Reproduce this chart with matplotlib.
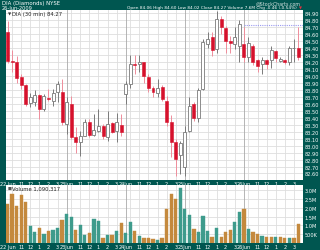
import matplotlib
matplotlib.use("Agg")
import matplotlib.pyplot as plt
import numpy as np

# ---------------- data ----------------
days = ["22 Jun", "23Jun", "24Jun", "25Jun", "26Jun"]
hour_labels = ["11", "12", "1", "2", "3"]
bars_per_day = 13

opens = [84.62, 84.21, 84.19, 83.98, 83.86, 83.61, 83.62, 83.72, 83.52, 83.68, 83.64, 83.76, 83.77,
         83.31, 83.59, 83.12, 83.05, 83.14, 83.33, 83.15, 83.21, 83.28, 83.12, 83.32, 83.21, 83.29,
         83.74, 83.88, 84.17, 84.17, 84.19, 83.98, 83.83, 83.75, 83.84, 83.64, 83.33, 83.05, 82.86,
         82.69, 83.21, 83.59, 83.40, 83.81, 84.45, 84.55, 84.38, 84.81, 84.68, 84.50, 84.45, 84.42,
         84.45, 84.27, 84.42, 84.22, 84.16, 84.22, 84.23, 84.35, 84.21, 84.22, 84.19, 84.39, 84.40]
closes = [84.21, 84.20, 83.96, 83.86, 83.59, 83.70, 83.72, 83.52, 83.71, 83.66, 83.75, 83.88, 83.33,
          83.62, 83.12, 83.05, 83.14, 83.33, 83.15, 83.22, 83.28, 83.13, 83.31, 83.20, 83.34, 83.19,
          83.88, 84.17, 84.15, 84.20, 83.99, 83.82, 83.76, 83.83, 83.67, 83.33, 83.05, 82.81, 83.04,
          83.20, 83.57, 83.40, 83.80, 84.48, 84.53, 84.36, 84.81, 84.69, 84.50, 84.47, 84.55, 84.74,
          84.27, 84.47, 84.20, 84.14, 84.22, 84.16, 84.36, 84.25, 84.24, 84.19, 84.40, 84.40, 84.27]
highs = [84.78, 84.36, 84.28, 84.02, 83.88, 83.75, 83.80, 83.74, 83.74, 83.81, 83.81, 83.93, 83.95,
         83.69, 83.71, 83.26, 83.21, 83.38, 83.38, 83.45, 83.52, 83.31, 83.50, 83.34, 83.47, 83.45,
         83.93, 84.29, 84.29, 84.29, 84.20, 84.02, 83.85, 83.95, 83.86, 83.71, 83.43, 83.09, 83.07,
         83.28, 83.69, 83.62, 83.83, 84.52, 84.62, 84.62, 84.93, 84.86, 84.71, 84.57, 84.70, 84.79,
         84.70, 84.55, 84.45, 84.24, 84.26, 84.24, 84.42, 84.36, 84.26, 84.24, 84.43, 84.52, 84.70]
lows = [84.18, 84.05, 83.90, 83.81, 83.56, 83.55, 83.56, 83.38, 83.50, 83.64, 83.57, 83.62, 83.30,
        83.16, 83.09, 82.90, 82.85, 83.14, 83.12, 83.14, 83.19, 83.09, 83.07, 83.18, 83.05, 83.14,
        83.59, 83.83, 84.02, 84.05, 83.90, 83.76, 83.70, 83.69, 83.64, 83.28, 82.83, 82.57, 82.59,
        82.57, 83.19, 83.35, 83.33, 83.79, 84.40, 84.28, 84.33, 84.60, 84.33, 84.33, 84.38, 84.20,
        84.20, 84.19, 84.15, 84.05, 84.02, 84.10, 84.11, 84.20, 84.19, 84.16, 84.15, 84.19, 84.22]
volumes_m = [2.22, 2.80, 2.13, 2.73, 2.31, 0.98, 0.62, 0.85, 0.49, 0.67, 0.76, 0.85, 1.31,
             1.64, 1.49, 0.76, 1.04, 0.44, 0.58, 1.35, 1.27, 0.31, 0.47, 0.47, 0.70, 1.12,
             0.58, 1.20, 0.67, 0.38, 0.28, 0.26, 0.25, 0.16, 0.26, 1.93, 2.80, 2.50, 3.12,
             1.93, 1.62, 0.80, 0.62, 1.53, 0.66, 0.34, 0.86, 0.36, 0.61, 0.75, 1.17, 1.77,
             1.91, 0.77, 0.63, 0.52, 0.38, 0.36, 0.33, 0.36, 0.34, 0.28, 0.27, 0.30, 1.08]
vol_up = [0, 0, 0, 0, 0, 1, 1, 0, 1, 0, 1, 1, 0,
          1, 1, 0, 1, 1, 0, 1, 1, 0, 1, 0, 1, 0,
          1, 1, 0, 1, 0, 0, 0, 1, 0, 0, 0, 0, 1,
          1, 1, 0, 1, 1, 1, 0, 1, 0, 0, 0, 1, 1,
          0, 1, 0, 0, 1, 0, 0, 1, 0, 0, 1, 0, 0]
ref_line_level = 84.73
ref_line_start = 52
price_ticks = [round(82.6 + 0.1 * k, 2) for k in range(24)]
vol_ticks_m = [0.5, 1.0, 1.5, 2.0, 2.5, 3.0]
vol_tick_labels = ["500K", "1.0M", "1.5M", "2.0M", "2.5M", "3.0M"]

# ---------------- style ----------------
W, H = 320, 251
FRAME = "#005650"
UP_EDGE = "#7a7a7a"
DN_BODY = "#d6112c"
DN_WICK = "#ef8d9b"
TEAL = "#3e9b8c"
BRONZE = "#c4893d"
GRID = "#dedede"
DAYLINE = "#a9a9a9"
FONT = ["Liberation Sans Narrow", "DejaVu Sans"]
plt.rcParams["font.family"] = FONT

fig = plt.figure(figsize=(W / 100, H / 100), dpi=100, facecolor=FRAME)


def rect(l, t, r, b):
    return [l / W, 1 - b / H, (r - l) / W, (b - t) / H]


n = len(opens)
x = np.arange(n)
xlim = (-0.35, n - 0.1)

day_starts = [d * bars_per_day for d in range(len(days))]
grid_pos = [d * bars_per_day + h for d in range(len(days)) for h in (1, 3, 5, 7, 9, 11)]
lab_pos = []
lab_txt = []
for d in range(len(days)):
    lab_pos.append(d * bars_per_day)
    lab_txt.append(days[d])
    for h, t in zip((3, 5, 7, 9, 11), hour_labels):
        lab_pos.append(d * bars_per_day + h)
        lab_txt.append(t)

# ---------------- price panel ----------------
ax = fig.add_axes(rect(6, 11, 302.5, 181))
ax.set_facecolor("white")
ax.set_xlim(*xlim)
ax.set_ylim(82.507, 84.939)
for gp in grid_pos:
    ax.axvline(gp, color=GRID, lw=0.6, zorder=0)
for ds in day_starts[1:]:
    ax.axvline(ds, color=DAYLINE, lw=0.6, zorder=0.5)
for pt in price_ticks:
    ax.axhline(pt, color=GRID, lw=0.6, zorder=0)

o = np.array(opens); c = np.array(closes); hi = np.array(highs); lo = np.array(lows)
up = c >= o
ax.vlines(x[up], lo[up], hi[up], color=UP_EDGE, lw=0.7, zorder=2)
ax.vlines(x[~up], lo[~up], hi[~up], color=DN_WICK, lw=0.7, zorder=2)
bot = np.minimum(o, c)
hgt = np.maximum(np.abs(c - o), 0.012)
ax.bar(x[up], hgt[up], bottom=bot[up], width=0.66, facecolor="white",
       edgecolor=UP_EDGE, lw=0.6, zorder=3)
ax.bar(x[~up], hgt[~up], bottom=bot[~up], width=0.66, facecolor=DN_BODY,
       edgecolor=DN_BODY, lw=0.4, zorder=3)
ax.hlines(ref_line_level, ref_line_start, xlim[1], color="#9a9af0", lw=0.8,
          linestyles=(0, (1, 1)), zorder=1)

ax.yaxis.tick_right()
ax.set_yticks(price_ticks)
ax.set_yticklabels([f"{p:.2f}" for p in price_ticks])
ax.set_xticks(lab_pos)
ax.set_xticklabels(lab_txt)
ax.tick_params(axis="both", length=0, colors="white", labelsize=3.6)
ax.tick_params(axis="y", pad=1.5)
ax.tick_params(axis="x", pad=0.6)
for s in ax.spines.values():
    s.set_visible(False)
ax.text(0.006, 0.992, "▼", transform=ax.transAxes, fontsize=3.0, va="top", ha="left",
        color="#333333", family=["DejaVu Sans"])
ax.text(0.02, 0.992, "DIA (30 min) 84.27", transform=ax.transAxes, fontsize=3.8,
        va="top", ha="left", color="#222222")

# ---------------- volume panel ----------------
av = fig.add_axes(rect(6, 186, 302.5, 244))
av.set_facecolor("white")
av.set_xlim(*xlim)
av.set_ylim(0, 3.3)
for gp in grid_pos:
    av.axvline(gp, color=GRID, lw=0.6, zorder=0)
for ds in day_starts[1:]:
    av.axvline(ds, color=DAYLINE, lw=0.6, zorder=0.5)
for vt in vol_ticks_m:
    av.axhline(vt, color=GRID, lw=0.6, zorder=0)
vcol = [TEAL if u else BRONZE for u in vol_up]
av.bar(x, volumes_m, width=0.72, color=vcol, edgecolor=vcol, lw=0.3, zorder=2)
av.yaxis.tick_right()
av.set_yticks(vol_ticks_m)
av.set_yticklabels(vol_tick_labels)
av.set_xticks(lab_pos)
av.set_xticklabels(lab_txt)
av.tick_params(axis="both", length=0, colors="white", labelsize=3.6)
av.tick_params(axis="y", pad=1.5)
av.tick_params(axis="x", pad=0.6)
for s in av.spines.values():
    s.set_visible(False)
av.text(0.006, 0.985, "■", transform=av.transAxes, fontsize=3.0, va="top", ha="left",
        color="#555555", family=["DejaVu Sans"])
av.text(0.02, 0.985, "Volume 1,090,317", transform=av.transAxes, fontsize=3.8,
        va="top", ha="left", color="#222222")

# ---------------- header ----------------
fig.text(2 / W, 1 - 1.0 / H, "DIA (Diamonds) NYSE", fontsize=3.9, color="white",
         va="top", ha="left")
fig.text(2 / W, 1 - 6 / H, "26-Jun-2009", fontsize=3.6, color="white", va="top", ha="left")
fig.text(301 / W, 1 - 1.0 / H, "@StockCharts.com", fontsize=3.4, color="#cfe0dd",
         va="top", ha="right")
fig.text(297 / W, 1 - 6 / H,
         "Open 84.06 High 84.60 Low 84.02 Close 84.27 Volume 7.6M Chg -0.46 (-0.54%)",
         fontsize=3.1, color="white", va="top", ha="right")
fig.text(302 / W, 1 - 6.3 / H, "▼", fontsize=2.8, color="#e03040", va="top", ha="right",
         family=["DejaVu Sans"])

fig.savefig("out.png", dpi=100, facecolor=FRAME)
